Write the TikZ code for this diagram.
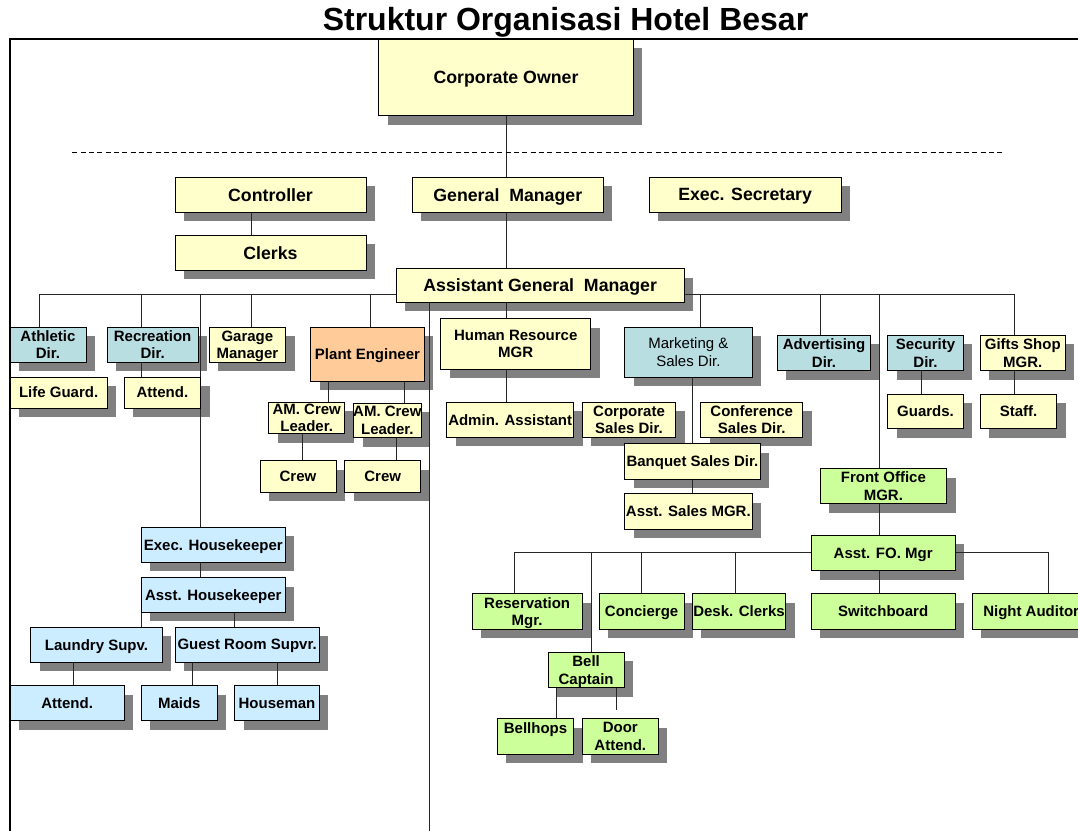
\documentclass[tikz,border=0pt]{standalone}
\usepackage{fontspec}
\setmainfont{Liberation Sans}

\definecolor{Kuning}{RGB}{255,255,204}
\definecolor{Toska}{RGB}{185,222,226}
\definecolor{Jingga}{RGB}{255,204,153}
\definecolor{Langit}{RGB}{204,236,255}
\definecolor{Hijau}{RGB}{204,255,153}
\definecolor{Bayang}{RGB}{128,128,128}

\def\besar{\fontsize{13.3}{15}\selectfont\bfseries}
\def\kecil{\fontsize{11.25}{13.1}\selectfont\bfseries}

\pgfdeclarelayer{bayangan}
\pgfdeclarelayer{lapisgaris}
\pgfsetlayers{bayangan,lapisgaris,main}

\tikzset{
	kotak/.style={draw,line width=0.7pt,inner sep=0pt,align=center,text depth=0pt,font=\kecil},
	kuning/.style={fill=Kuning},
	toska/.style={fill=Toska},
	jingga/.style={fill=Jingga},
	langit/.style={fill=Langit},
	hijau/.style={fill=Hijau},
	besar/.style={font=\besar},
	tipis/.style={font=\fontsize{11.25}{13.7}\selectfont},
	garis/.style={draw=black!85,line width=0.7pt}
}

\def\kotak#1#2#3#4#5#6#7{
	\begin{pgfonlayer}{bayangan}
		\fill[Bayang] ({#2+9},{#3+9}) rectangle ({#4+9},{#5+9});
	\end{pgfonlayer}
	\node[kotak,#6,minimum width={(#4-#2)*0.75pt},minimum height={(#5-#3)*0.75pt}]
		(#1) at ({(#2+#4)/2},{(#3+#5)/2}) {#7};
}
\def\tarik#1#2#3{
	\draw[garis] (#1,0 |- #2.south) -- (#1,0 |- #3.north);
}

\begin{document}
\begin{tikzpicture}[x=0.75pt,y=-0.75pt]

\useasboundingbox (0,0) rectangle (1078,831);

\node[font=\fontsize{24}{28}\selectfont\bfseries,anchor=base] (judul) at (565.5,30.7)
	{Struktur Organisasi Hotel Besar};

\draw[line width=0.7pt,dash pattern=on 3.75pt off 2.5pt] (72.3,152.3) -- (1005,152.3);

\begin{scope}
	\kotak{co}{378.7}{39}{633.3}{115.7}{kuning,besar}{Corporate Owner}
	\kotak{ctrl}{175}{177.3}{366}{212.3}{kuning,besar}{Controller}
	\kotak{clerks}{175}{235.3}{366}{270.3}{kuning,besar}{Clerks}
	\kotak{gm}{412.3}{177}{603.3}{212.3}{kuning,besar}{General\ \ Manager}
	\kotak{sec}{649.3}{177}{841}{212.3}{kuning,besar}{Exec. Secretary}
	\kotak{agm}{396}{268.7}{684.3}{302}{kuning,besar}{Assistant General\ \ Manager}
\end{scope}

\begin{scope}
	\kotak{athl}{10}{327.3}{86}{362.3}{toska}{Athletic\\Dir.}
	\kotak{recr}{107.3}{327.3}{198}{362.3}{toska}{Recreation\\Dir.}
	\kotak{garage}{209}{327.3}{285.7}{362.3}{kuning}{Garage\\Manager}
	\kotak{plant}{310.7}{327.3}{424.3}{381.3}{jingga}{Plant Engineer}
	\kotak{life}{10}{377}{107.3}{408}{kuning}{Life Guard.}
	\kotak{attr}{124}{377}{200.7}{408}{kuning}{Attend.}
	\kotak{lead1}{268.7}{402.3}{344.7}{433.7}{kuning}{AM. Crew\\Leader.}
	\kotak{lead2}{354}{403}{420.7}{437.7}{kuning}{AM. Crew\\Leader.}
	\kotak{crew1}{260}{460.7}{336}{492}{kuning}{Crew}
	\kotak{crew2}{344.7}{460.7}{420.7}{492}{kuning}{Crew}
\end{scope}

\begin{scope}
	\kotak{hr}{440.7}{318.7}{590.7}{369}{kuning}{Human Resource\\MGR}
	\kotak{admin}{446.7}{402.3}{573.7}{437.3}{kuning}{Admin. Assistant}
	\kotak{corp}{582.3}{402.3}{675.7}{437.3}{kuning}{Corporate\\Sales Dir.}
	\kotak{mkt}{624.7}{327.3}{752}{377}{toska,tipis}{Marketing \&\\Sales Dir.}
	\kotak{conf}{700.7}{402.3}{802.7}{437.3}{kuning}{Conference\\Sales Dir.}
	\kotak{banq}{624.7}{443.7}{760}{479}{kuning}{Banquet Sales Dir.}
	\kotak{asm}{624.7}{493.7}{752}{529}{kuning}{Asst. Sales MGR.}
	\kotak{adv}{777.3}{335.3}{870.7}{370.7}{toska}{Advertising\\Dir.}
	\kotak{secu}{887.7}{335.3}{963.3}{370.7}{toska}{Security\\Dir.}
	\kotak{gift}{980.3}{335.3}{1065.3}{370.7}{kuning}{Gifts Shop\\MGR.}
	\kotak{guard}{887.7}{394}{963.3}{428.7}{kuning}{Guards.}
	\kotak{staff}{980.3}{394}{1056.7}{428.7}{kuning}{Staff.}
\end{scope}

\begin{scope}
	\kotak{fo}{820}{468.7}{946.7}{503.7}{hijau}{Front Office\\MGR.}
	\kotak{afo}{811}{535.3}{955.3}{570.7}{hijau}{Asst. FO. Mgr}
	\kotak{resv}{472}{593.7}{582.3}{629}{hijau}{Reservation\\Mgr.}
	\kotak{conc}{599}{593.7}{684.3}{629}{hijau}{Concierge}
	\kotak{desk}{692.3}{593.7}{785.7}{629}{hijau}{Desk. Clerks}
	\kotak{swb}{811}{593.7}{955.3}{629}{hijau}{Switchboard}
	\kotak{night}{972.3}{593.7}{1090}{629}{hijau}{Night Auditor}
	\kotak{bell}{548}{652}{624.3}{687.7}{hijau}{Bell\\Captain}
	\kotak{bhop}{497.3}{718.7}{573.7}{754.3}{hijau}{Bellhops\\\mbox{}}
	\kotak{door}{582.3}{718.7}{658.3}{754.3}{hijau}{Door\\Attend.}
\end{scope}

\begin{scope}
	\kotak{exhk}{141.3}{527.3}{285.3}{562.3}{langit}{Exec. Housekeeper}
	\kotak{ashk}{141.3}{577.7}{285.3}{612}{langit}{Asst. Housekeeper}
	\kotak{laun}{30.7}{627}{162.3}{662.3}{langit}{Laundry Supv.}
	\kotak{guest}{175}{627}{319.3}{662.3}{langit}{Guest Room Supvr.}
	\kotak{atl}{10}{685.7}{124.3}{720.7}{langit}{Attend.}
	\kotak{maids}{141.3}{685.7}{217.3}{720.7}{langit}{Maids}
	\kotak{house}{234.7}{685.7}{319.3}{720.7}{langit}{Houseman}
\end{scope}

\coordinate (bawah) at (429.3,831);

\begin{pgfonlayer}{lapisgaris}
	\tarik{506}{co}{gm}
	\tarik{506.5}{gm}{agm}
	\tarik{251.7}{ctrl}{clerks}

	\draw[garis] (agm.west |- 0,294) -- (39.3,294);
	\draw[garis] (agm.east |- 0,294) -- (1014.7,294);
	\foreach \x/\n in {39.3/athl,141.3/recr,200.3/exhk,251.7/garage,370/plant,
		700.7/mkt,820/adv,879.3/fo,1014.7/gift}{
		\draw[garis] (\x,294) -- (\x,0 |- \n.north);
	}
	\draw[garis] (429.3,0 |- agm.south) -- (bawah);

	\tarik{141.3}{recr}{attr}
	\tarik{328.3}{plant}{lead1}
	\tarik{404.3}{plant}{lead2}
	\tarik{302.7}{lead1}{crew1}
	\tarik{396}{lead2}{crew2}

	\tarik{506}{agm}{hr}
	\tarik{506}{hr}{admin}
	\tarik{692.7}{mkt}{banq}
	\tarik{692.7}{banq}{asm}
	\tarik{921.7}{secu}{guard}
	\tarik{1014.7}{gift}{staff}

	\tarik{879.3}{fo}{afo}
	\tarik{879}{afo}{swb}
	\draw[garis] (afo.west |- 0,552.3) -- (514,552.3);
	\draw[garis] (afo.east |- 0,552.3) -- (1048.7,552.3) -- (1048.7,0 |- night.north);
	\foreach \x/\n in {514/resv,591/bell,641.3/conc,735/desk}{
		\draw[garis] (\x,552.3) -- (\x,0 |- \n.north);
	}
	\tarik{556.7}{bell}{bhop}
	\draw[garis,shorten >=6pt] (616,0 |- bell.south) -- (616,0 |- door.north);

	\tarik{200.7}{exhk}{ashk}
	\tarik{141.3}{ashk}{laun}
	\tarik{234.7}{ashk}{guest}
	\tarik{73.3}{laun}{atl}
	\tarik{192}{guest}{maids}
	\tarik{277}{guest}{house}
\end{pgfonlayer}

\draw[line width=1.5pt] (10,845) -- (10,39) -- (1090,39);

\end{tikzpicture}
\end{document}
